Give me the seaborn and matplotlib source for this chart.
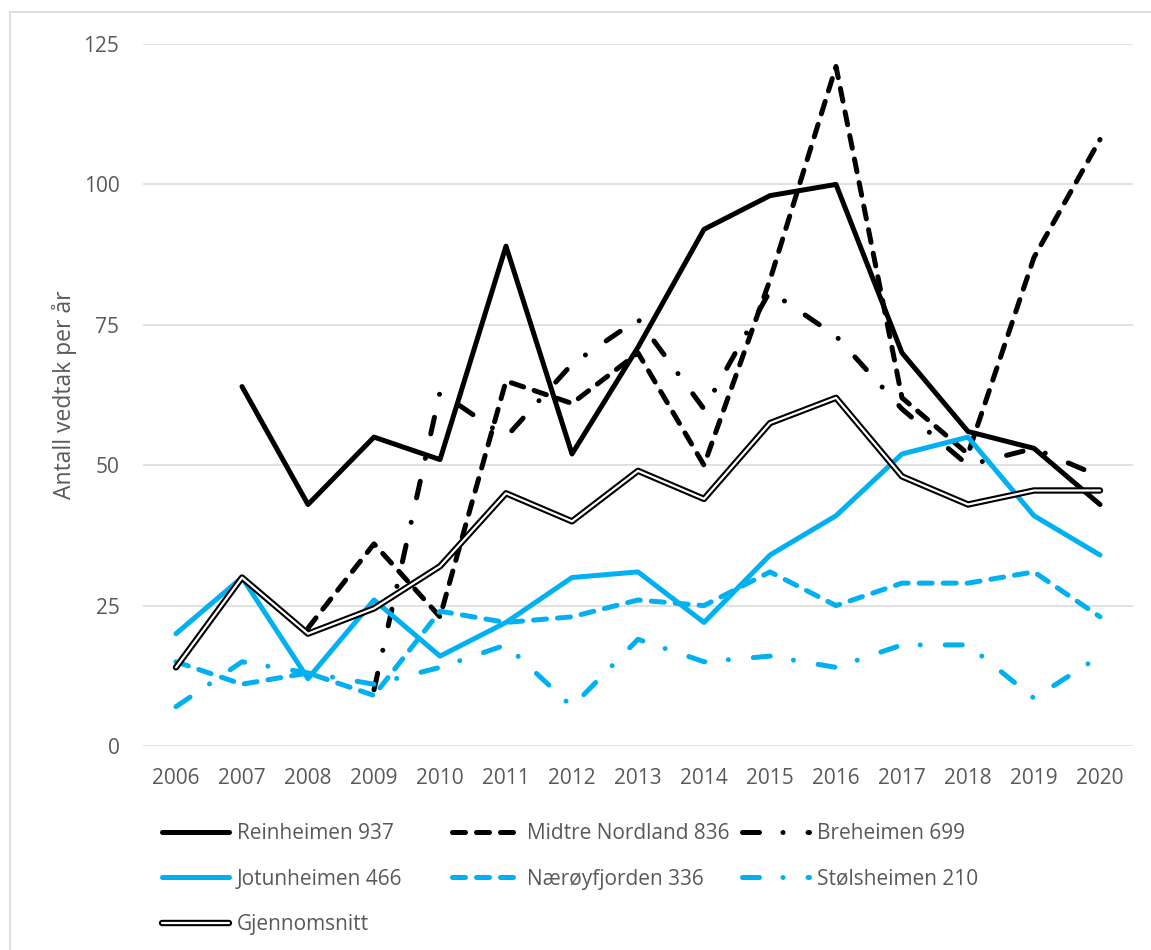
import matplotlib
matplotlib.use("Agg")
import matplotlib.pyplot as plt
import seaborn as sns
import numpy as np
import pandas as pd
from matplotlib.lines import Line2D
from matplotlib.legend_handler import HandlerTuple

years = list(range(2006, 2021))
nan = np.nan

reinheimen = [nan, 64, 43, 55, 51, 89, 52, 71, 92, 98, 100, 70, 56, 53, 43]
midtre_nordland = [nan, nan, 21, 36, 23, 65, 61, 70, 50, 83, 121, 62, 52, 87, 108]
breheimen = [nan, nan, nan, 10, 63, 55, 68, 76, 60, 81, 73, 60, 50, 53, 48]
jotunheimen = [20, 30, 12, 26, 16, 22, 30, 31, 22, 34, 41, 52, 55, 41, 34]
naeroyfjorden = [15, 11, 13, 9, 24, 22, 23, 26, 25, 31, 25, 29, 29, 31, 23]
stolsheimen = [7, 15, 13, 11, 14, 18, 7, 19, 15, 16, 14, 18, 18, 8.5, 16]
gjennomsnitt = [14, 30, 20, 24.5, 32, 45, 40, 49, 44, 57.5, 62, 48, 43, 45.5, 45.5]

labels = ["Reinheimen 937", "Midtre Nordland 836", "Breheimen 699",
          "Jotunheimen 466", "Nærøyfjorden 336", "Stølsheimen 210", "Gjennomsnitt"]

BLUE = "#00B0F0"
TEXT = "#595959"
GRID = "#D9D9D9"

sns.set_theme(style="white")
plt.rcParams["font.family"] = ["Open Sans", "DejaVu Sans"]

fig = plt.figure(figsize=(11.51, 9.5), dpi=100)
ax = fig.add_axes([143 / 1151, 204 / 950, 990 / 1151, 702 / 950])

dash = (0, (2.6, 2.2))
dashdot = (0, (3.4, 4.7, 0.01, 5.0))
series = [
    (reinheimen, "black", "-"),
    (midtre_nordland, "black", dash),
    (breheimen, "black", dashdot),
    (jotunheimen, BLUE, "-"),
    (naeroyfjorden, BLUE, dash),
    (stolsheimen, BLUE, dashdot),
]

style = dict(solid_capstyle="round", dash_capstyle="round",
             solid_joinstyle="round", dash_joinstyle="round")

handles = []
for vals, col, ls in series:
    df = pd.DataFrame({"year": years, "value": vals}).dropna()
    sns.lineplot(data=df, x="year", y="value", ax=ax, color=col, linewidth=3.6,
                 linestyle=ls, errorbar=None, **style)
    handles.append(Line2D([], [], color=col, linewidth=3.6, linestyle=ls, **style))

# average drawn as a double line
df = pd.DataFrame({"year": years, "value": gjennomsnitt})
sns.lineplot(data=df, x="year", y="value", ax=ax, color="black", linewidth=4.6,
             errorbar=None, **style)
sns.lineplot(data=df, x="year", y="value", ax=ax, color="white", linewidth=1.6,
             errorbar=None, **style)
handles.append((Line2D([], [], color="black", linewidth=4.6, **style),
                Line2D([], [], color="white", linewidth=1.6, **style)))

ax.set_xlim(2005.5, 2020.5)
ax.set_ylim(0, 125)
ax.set_xticks(years)
ax.set_xticklabels([str(y) for y in years])
ax.set_yticks([0, 25, 50, 75, 100, 125])
ax.yaxis.grid(True, color=GRID, linewidth=1.1)
ax.set_axisbelow(True)
for s in ax.spines.values():
    s.set_visible(False)
ax.tick_params(axis="both", length=0, labelsize=15, labelcolor=TEXT)
ax.tick_params(axis="y", pad=17)
ax.tick_params(axis="x", pad=16)
ax.set_xlabel("")
ax.set_ylabel("Antall vedtak per år", fontsize=16.5, color=TEXT, labelpad=5)

# legend laid out as three columns
cols = [
    ([handles[0], handles[3], handles[6]], [labels[0], labels[3], labels[6]], 162),
    ([handles[1], handles[4]], [labels[1], labels[4]], 452),
    ([handles[2], handles[5]], [labels[2], labels[5]], 742),
]
for hs, ls_, x0 in cols:
    leg = fig.legend(hs, ls_, loc="upper left", bbox_to_anchor=(x0 / 1151, 1 - 823 / 950),
                     frameon=False, fontsize=15, labelcolor=TEXT, handlelength=3.2,
                     handletextpad=0.4, labelspacing=1.18, borderpad=0, borderaxespad=0,
                     handler_map={tuple: HandlerTuple(ndivide=1, pad=0)})

# chart area border
fig.add_artist(Line2D([10 / 1151, 10 / 1151], [0, 1 - 12 / 950], color=GRID, linewidth=1.2))
fig.add_artist(Line2D([10 / 1151, 1], [1 - 12 / 950, 1 - 12 / 950], color=GRID, linewidth=1.2))

fig.savefig("out.png", dpi=100, facecolor="white")
